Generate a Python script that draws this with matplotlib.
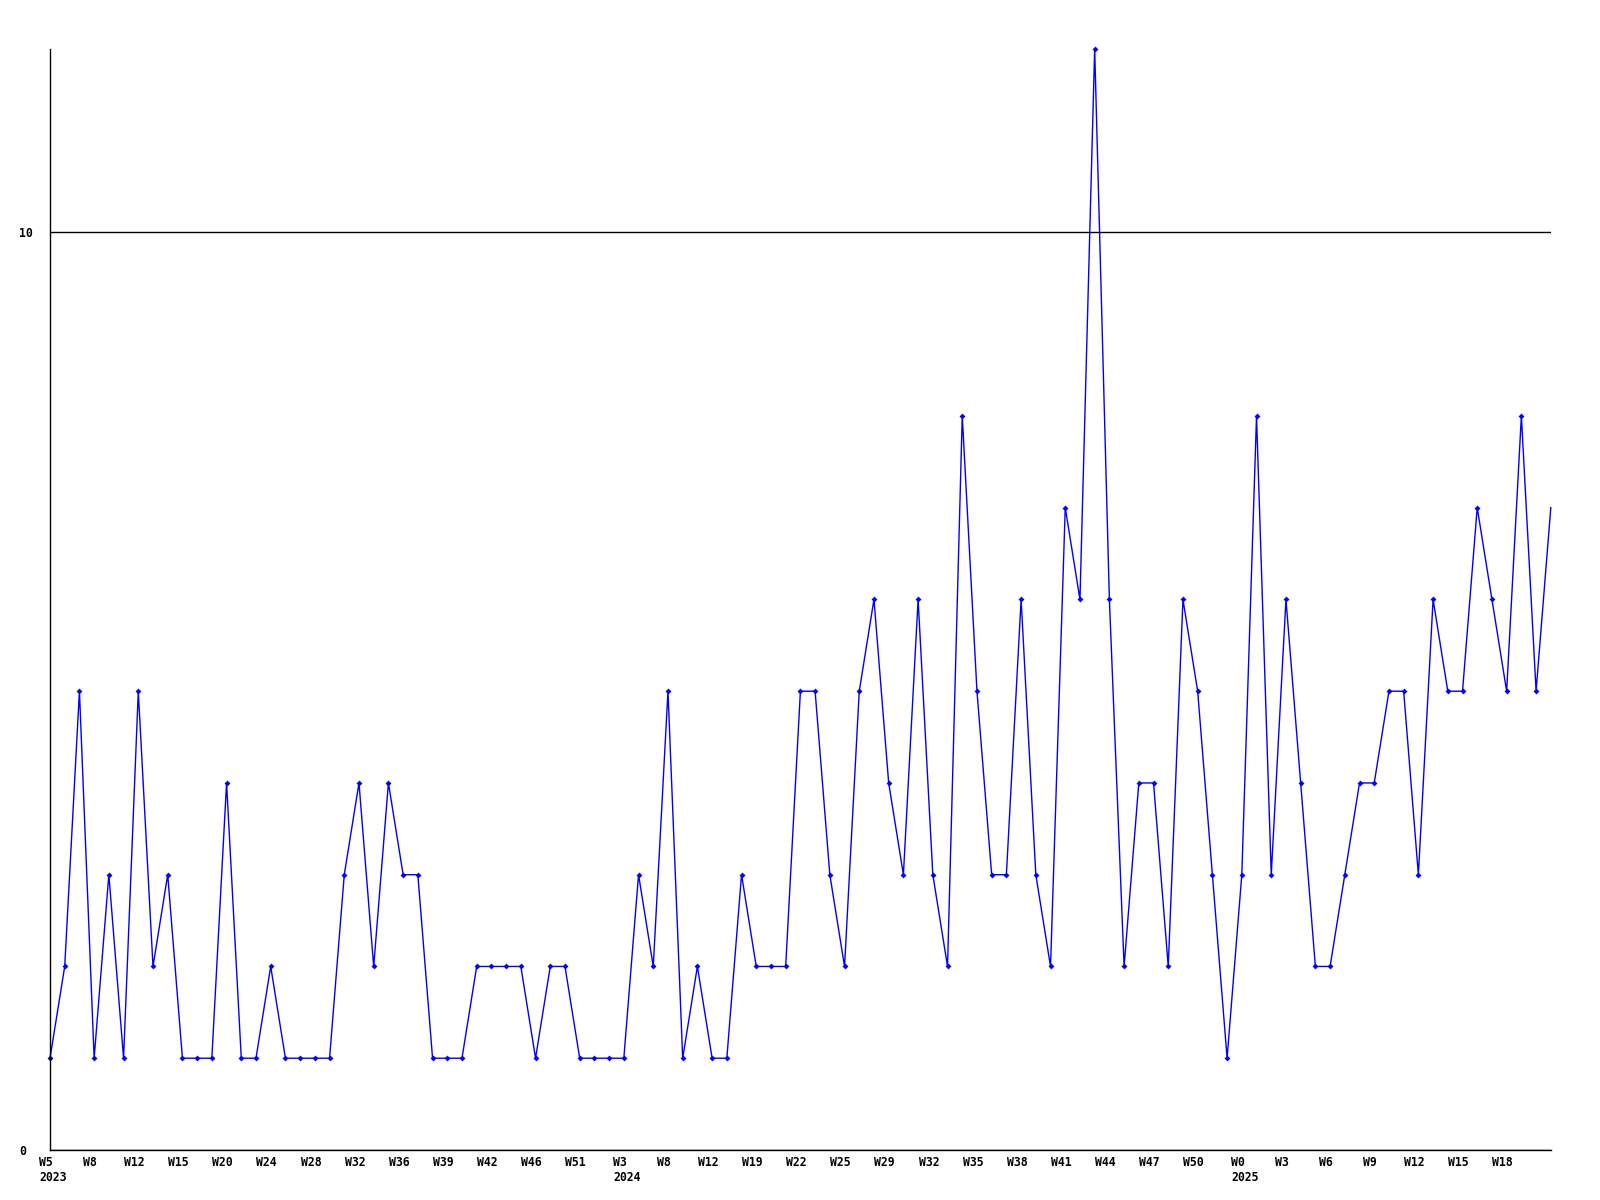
# Weekly counts line chart (2023 W5 - 2025)
import matplotlib
matplotlib.use('Agg')
import matplotlib.pyplot as plt
import matplotlib.transforms as mtransforms

# weekly values
values = [1, 2, 5, 1, 3, 1, 5, 2, 3, 1,
          1, 1, 4, 1, 1, 2, 1, 1, 1, 1,
          3, 4, 2, 4, 3, 3, 1, 1, 1, 2,
          2, 2, 2, 1, 2, 2, 1, 1, 1, 1,
          3, 2, 5, 1, 2, 1, 1, 3, 2, 2,
          2, 5, 5, 3, 2, 5, 6, 4, 3, 6,
          3, 2, 8, 5, 3, 3, 6, 3, 2, 7,
          6, 12, 6, 2, 4, 4, 2, 6, 5, 3,
          1, 3, 8, 3, 6, 4, 2, 2, 3, 4,
          4, 5, 5, 3, 6, 5, 5, 7, 6, 5,
          8, 5, 7]

# x labels every third week
week_labels = ['W5', 'W8', 'W12', 'W15', 'W20', 'W24', 'W28', 'W32', 'W36',
               'W39', 'W42', 'W46', 'W51', 'W3', 'W8', 'W12', 'W19', 'W22',
               'W25', 'W29', 'W32', 'W35', 'W38', 'W41', 'W44', 'W47', 'W50',
               'W0', 'W3', 'W6', 'W9', 'W12', 'W15', 'W18']
label_step = 3

# year labels: (index of week label, year)
year_labels = [(0, '2023'), (13, '2024'), (27, '2025')]

y_ticks = [0, 10]

x = list(range(len(values)))

fig = plt.figure(figsize=(16, 12), dpi=100)
ax = fig.add_axes([0.03125, 0.0417, 0.938, 0.9175])

# last point is drawn without a marker, like the original
ax.plot(x, values, color='#0000ff', linewidth=1.0,
        marker='D', markersize=3, markeredgewidth=0,
        markevery=list(range(len(values) - 1)), clip_on=False)

ax.set_xlim(0, len(values) - 1)
ax.set_ylim(0, 12)

font = {'family': 'DejaVu Sans Mono', 'weight': 'bold', 'size': 8.3}

tick_pos = [i * label_step for i in range(len(week_labels))]
ax.set_xticks(tick_pos)
ax.set_xticklabels(week_labels, fontdict=font)
ax.tick_params(axis='x', length=0, pad=4)

# week labels sit a few pixels left of their point
shift = mtransforms.ScaledTranslation(-4 / 100, 0, fig.dpi_scale_trans)
for lab in ax.get_xticklabels():
    lab.set_transform(lab.get_transform() + shift)

ax.set_yticks(y_ticks)
ax.set_yticklabels([str(v) for v in y_ticks], fontdict=font, ha='left')
ax.tick_params(axis='y', length=0, pad=22)

ax.grid(axis='y', color='black', linewidth=1.0)
ax.set_axisbelow(True)

for s in ['top', 'right']:
    ax.spines[s].set_visible(False)
for s in ['left', 'bottom']:
    ax.spines[s].set_linewidth(1.0)

# year under the first week label of each year
trans = mtransforms.blended_transform_factory(ax.transData, ax.transAxes)
for idx, year in year_labels:
    ax.text(tick_pos[idx] - 0.7, -0.0195, year, transform=trans,
            ha='left', va='top', **font)

fig.savefig('out.png', dpi=100)
